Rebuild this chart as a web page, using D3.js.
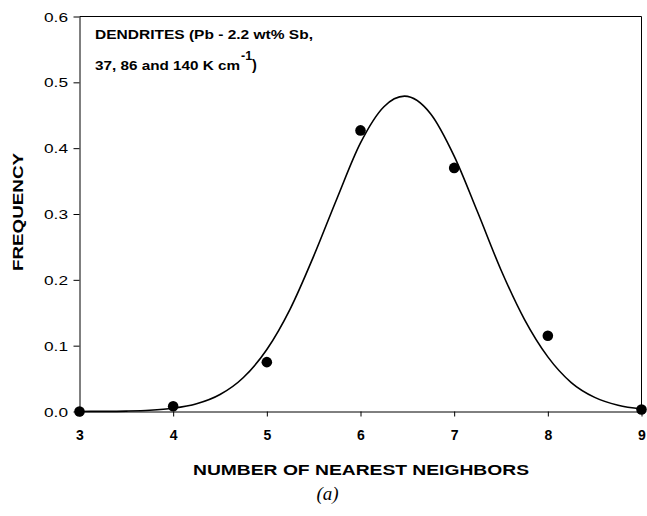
<!DOCTYPE html>
<html>
<head>
<meta charset="utf-8">
<script src="https://cdn.jsdelivr.net/npm/d3@7"></script>
<style>
  html, body { margin: 0; padding: 0; background: #fff; }
  svg { display: block; font-family: Arial, "Liberation Sans", Helvetica, sans-serif; }
</style>
</head>
<body>
<svg id="chart" width="647" height="516"></svg>
<script>
// Measured frequencies of nearest-neighbour counts
const neighbors = [3, 4, 5, 6, 7, 8, 9];
const frequency = [0.000, 0.008, 0.075, 0.427, 0.370, 0.115, 0.003];

// Fitted distribution curve, sampled along the x axis
const fitX = [3.00, 3.25, 3.50, 3.75, 4.00, 4.25, 4.50, 4.75, 5.00, 5.25, 5.50, 5.75,
              6.00, 6.25, 6.47, 6.75, 7.00, 7.25, 7.50, 7.75, 8.00, 8.25, 8.50, 8.75, 9.00];
const fitY = [0.0001, 0.0002, 0.0006, 0.0018, 0.0049, 0.0117, 0.0258, 0.0517, 0.0942, 0.156, 0.236, 0.324,
              0.408, 0.463, 0.479, 0.452, 0.388, 0.303, 0.215, 0.140, 0.083, 0.044, 0.0215, 0.0096, 0.0039];

const xTicks = [3, 4, 5, 6, 7, 8, 9];
const yTicks = [0.0, 0.1, 0.2, 0.3, 0.4, 0.5, 0.6];

const svg = d3.select("#chart");
const plotLeft = 79.5, plotRight = 641.5, plotTop = 16.5, plotBottom = 411.5;

const x = d3.scaleLinear().domain([3, 9]).range([plotLeft, plotRight]);
const y = d3.scaleLinear().domain([0, 0.6]).range([plotBottom, plotTop]);

// Frame: top and right borders
svg.append("line").attr("x1", plotLeft).attr("x2", plotRight).attr("y1", plotTop).attr("y2", plotTop)
  .attr("stroke", "#000").attr("stroke-width", 1);
svg.append("line").attr("x1", plotRight).attr("x2", plotRight).attr("y1", plotTop).attr("y2", plotBottom)
  .attr("stroke", "#000").attr("stroke-width", 1);

// Bottom axis
const gx = svg.append("g").attr("transform", `translate(0,${plotBottom})`)
  .call(d3.axisBottom(x).tickValues(xTicks).tickFormat(d3.format("d")).tickSize(5).tickSizeOuter(0));
gx.select(".domain").attr("stroke", "#000");
gx.selectAll(".tick line").attr("stroke", "#000");
gx.selectAll(".tick text")
  .attr("y", 28.5).attr("dy", null)
  .attr("fill", "#000")
  .style("font-size", "14px").style("font-weight", "bold")
  .style("font-family", "Arial, 'Liberation Sans', sans-serif");

// Left axis
const gy = svg.append("g").attr("transform", `translate(${plotLeft},0)`)
  .call(d3.axisLeft(y).tickValues(yTicks).tickFormat(d3.format(".1f")).tickSize(6).tickSizeOuter(0));
gy.select(".domain").attr("stroke", "#000");
gy.selectAll(".tick line").attr("stroke", "#000");
gy.selectAll(".tick text")
  .attr("x", -11.5)
  .attr("dy", "0.35em")
  .attr("fill", "#000")
  .attr("textLength", 24).attr("lengthAdjust", "spacingAndGlyphs")
  .style("font-size", "13px")
  .style("font-family", "Arial, 'Liberation Sans', sans-serif");

// Fitted curve
const line = d3.line()
  .x((d, i) => x(fitX[i]))
  .y(d => y(d))
  .curve(d3.curveMonotoneX);
svg.append("path")
  .datum(fitY)
  .attr("d", line)
  .attr("fill", "none")
  .attr("stroke", "#000")
  .attr("stroke-width", 1.6);

// Data points
svg.append("g").selectAll("circle")
  .data(frequency)
  .join("circle")
  .attr("cx", (d, i) => x(neighbors[i]))
  .attr("cy", d => y(d))
  .attr("r", 5.3)
  .attr("fill", "#000");

// Axis titles
svg.append("text")
  .attr("x", 193).attr("y", 475)
  .attr("textLength", 336).attr("lengthAdjust", "spacingAndGlyphs")
  .style("font-size", "14px").style("font-weight", "bold")
  .text("NUMBER OF NEAREST NEIGHBORS");

svg.append("text")
  .attr("transform", "translate(23,271) rotate(-90)")
  .attr("textLength", 118).attr("lengthAdjust", "spacingAndGlyphs")
  .style("font-size", "14px").style("font-weight", "bold")
  .text("FREQUENCY");

// Annotation
svg.append("text")
  .attr("x", 95).attr("y", 39)
  .attr("textLength", 218).attr("lengthAdjust", "spacingAndGlyphs")
  .style("font-size", "13.5px").style("font-weight", "bold")
  .text("DENDRITES (Pb - 2.2 wt% Sb,");
svg.append("text")
  .attr("x", 95).attr("y", 69.5)
  .attr("textLength", 145).attr("lengthAdjust", "spacingAndGlyphs")
  .style("font-size", "13.5px").style("font-weight", "bold")
  .text("37, 86 and 140 K cm");
svg.append("text")
  .attr("x", 241).attr("y", 59.5)
  .style("font-size", "12.5px").style("font-weight", "bold")
  .text("-1");
svg.append("text")
  .attr("x", 252).attr("y", 69.5)
  .style("font-size", "14.5px").style("font-weight", "bold")
  .text(")");

// Panel label
svg.append("text")
  .attr("x", 327.5).attr("y", 499.5)
  .attr("text-anchor", "middle")
  .style("font-family", "'Times New Roman', 'Liberation Serif', 'DejaVu Serif', serif")
  .style("font-style", "italic")
  .style("font-size", "19px")
  .text("(a)");
</script>
</body>
</html>
